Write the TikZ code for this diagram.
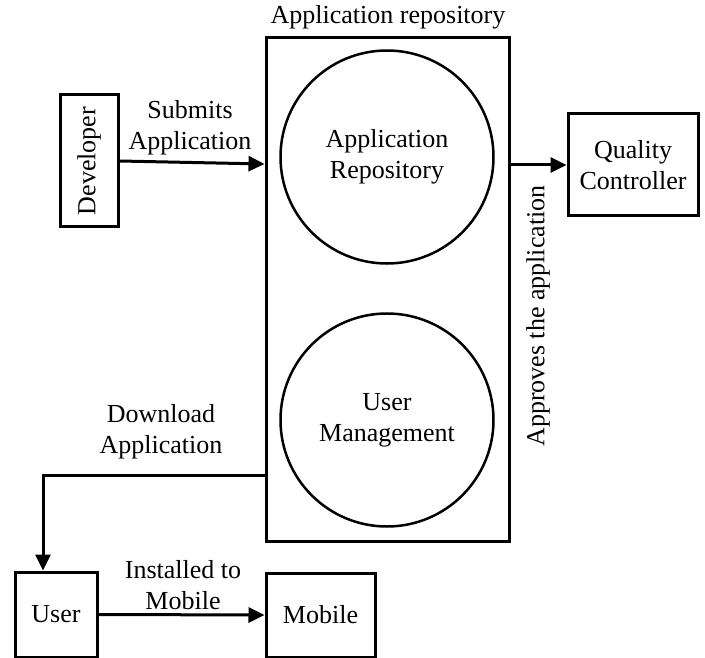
\documentclass[tikz,border=0pt]{standalone}
\usepackage{fontspec}
\setmainfont{Liberation Serif}
\usetikzlibrary{arrows.meta,calc}
\begin{document}
\begin{tikzpicture}[x=1pt,y=-1pt,
  every node/.style={font=\fontsize{26}{31}\selectfont},
  box/.style={draw,line width=3pt,align=center,inner sep=0pt},
  bubble/.style={draw,circle,line width=2.5pt,minimum size=213pt,align=center,inner sep=0pt},
  lbl/.style={align=center,inner sep=0pt},
  conn/.style={line width=3pt,-{Triangle[length=16pt,width=15pt]}}]
\useasboundingbox (0,0) rectangle (705,658);
\node[box,minimum width=243pt,minimum height=503pt] (repo) at (387.5,289.5) {};
\node[lbl] (title) at (388,17) {Application repository};
\node[bubble] (ar) at (387,157) {Application\\Repository};
\node[bubble] (um) at (387,420) {User\\Management};
\node[box,minimum width=58pt,minimum height=132pt] (dev) at (89,161) {\rotatebox{90}{Developer}};
\node[box,minimum width=130pt,minimum height=102pt] (qc) at (633,165) {Quality\\Controller};
\node[box,minimum width=82pt,minimum height=85pt] (user) at (56,614.5) {User};
\node[box,minimum width=109pt,minimum height=84pt] (mob) at (320.5,615) {Mobile};
\coordinate (devin) at (repo.west |- 0,164);
\coordinate (dlout) at (repo.west |- 0,475);
\coordinate (corner) at (43,475);
\draw[conn] (dev.east) -- (devin);
\draw[conn] (repo.east |- qc.west) -- (qc.west);
\draw[conn] (dlout) -- (corner) -- (corner |- user.north);
\draw[conn] (user.east) -- (mob.west);
\node[lbl] (l1) at (190,128) {Submits\\Application};
\node[lbl,rotate=90] (l2) at (538,316) {Approves the application};
\node[lbl] (l3) at (161,432) {Download\\Application};
\node[lbl] (l4) at (183,585) {Installed to\\Mobile};
\end{tikzpicture}
\end{document}
